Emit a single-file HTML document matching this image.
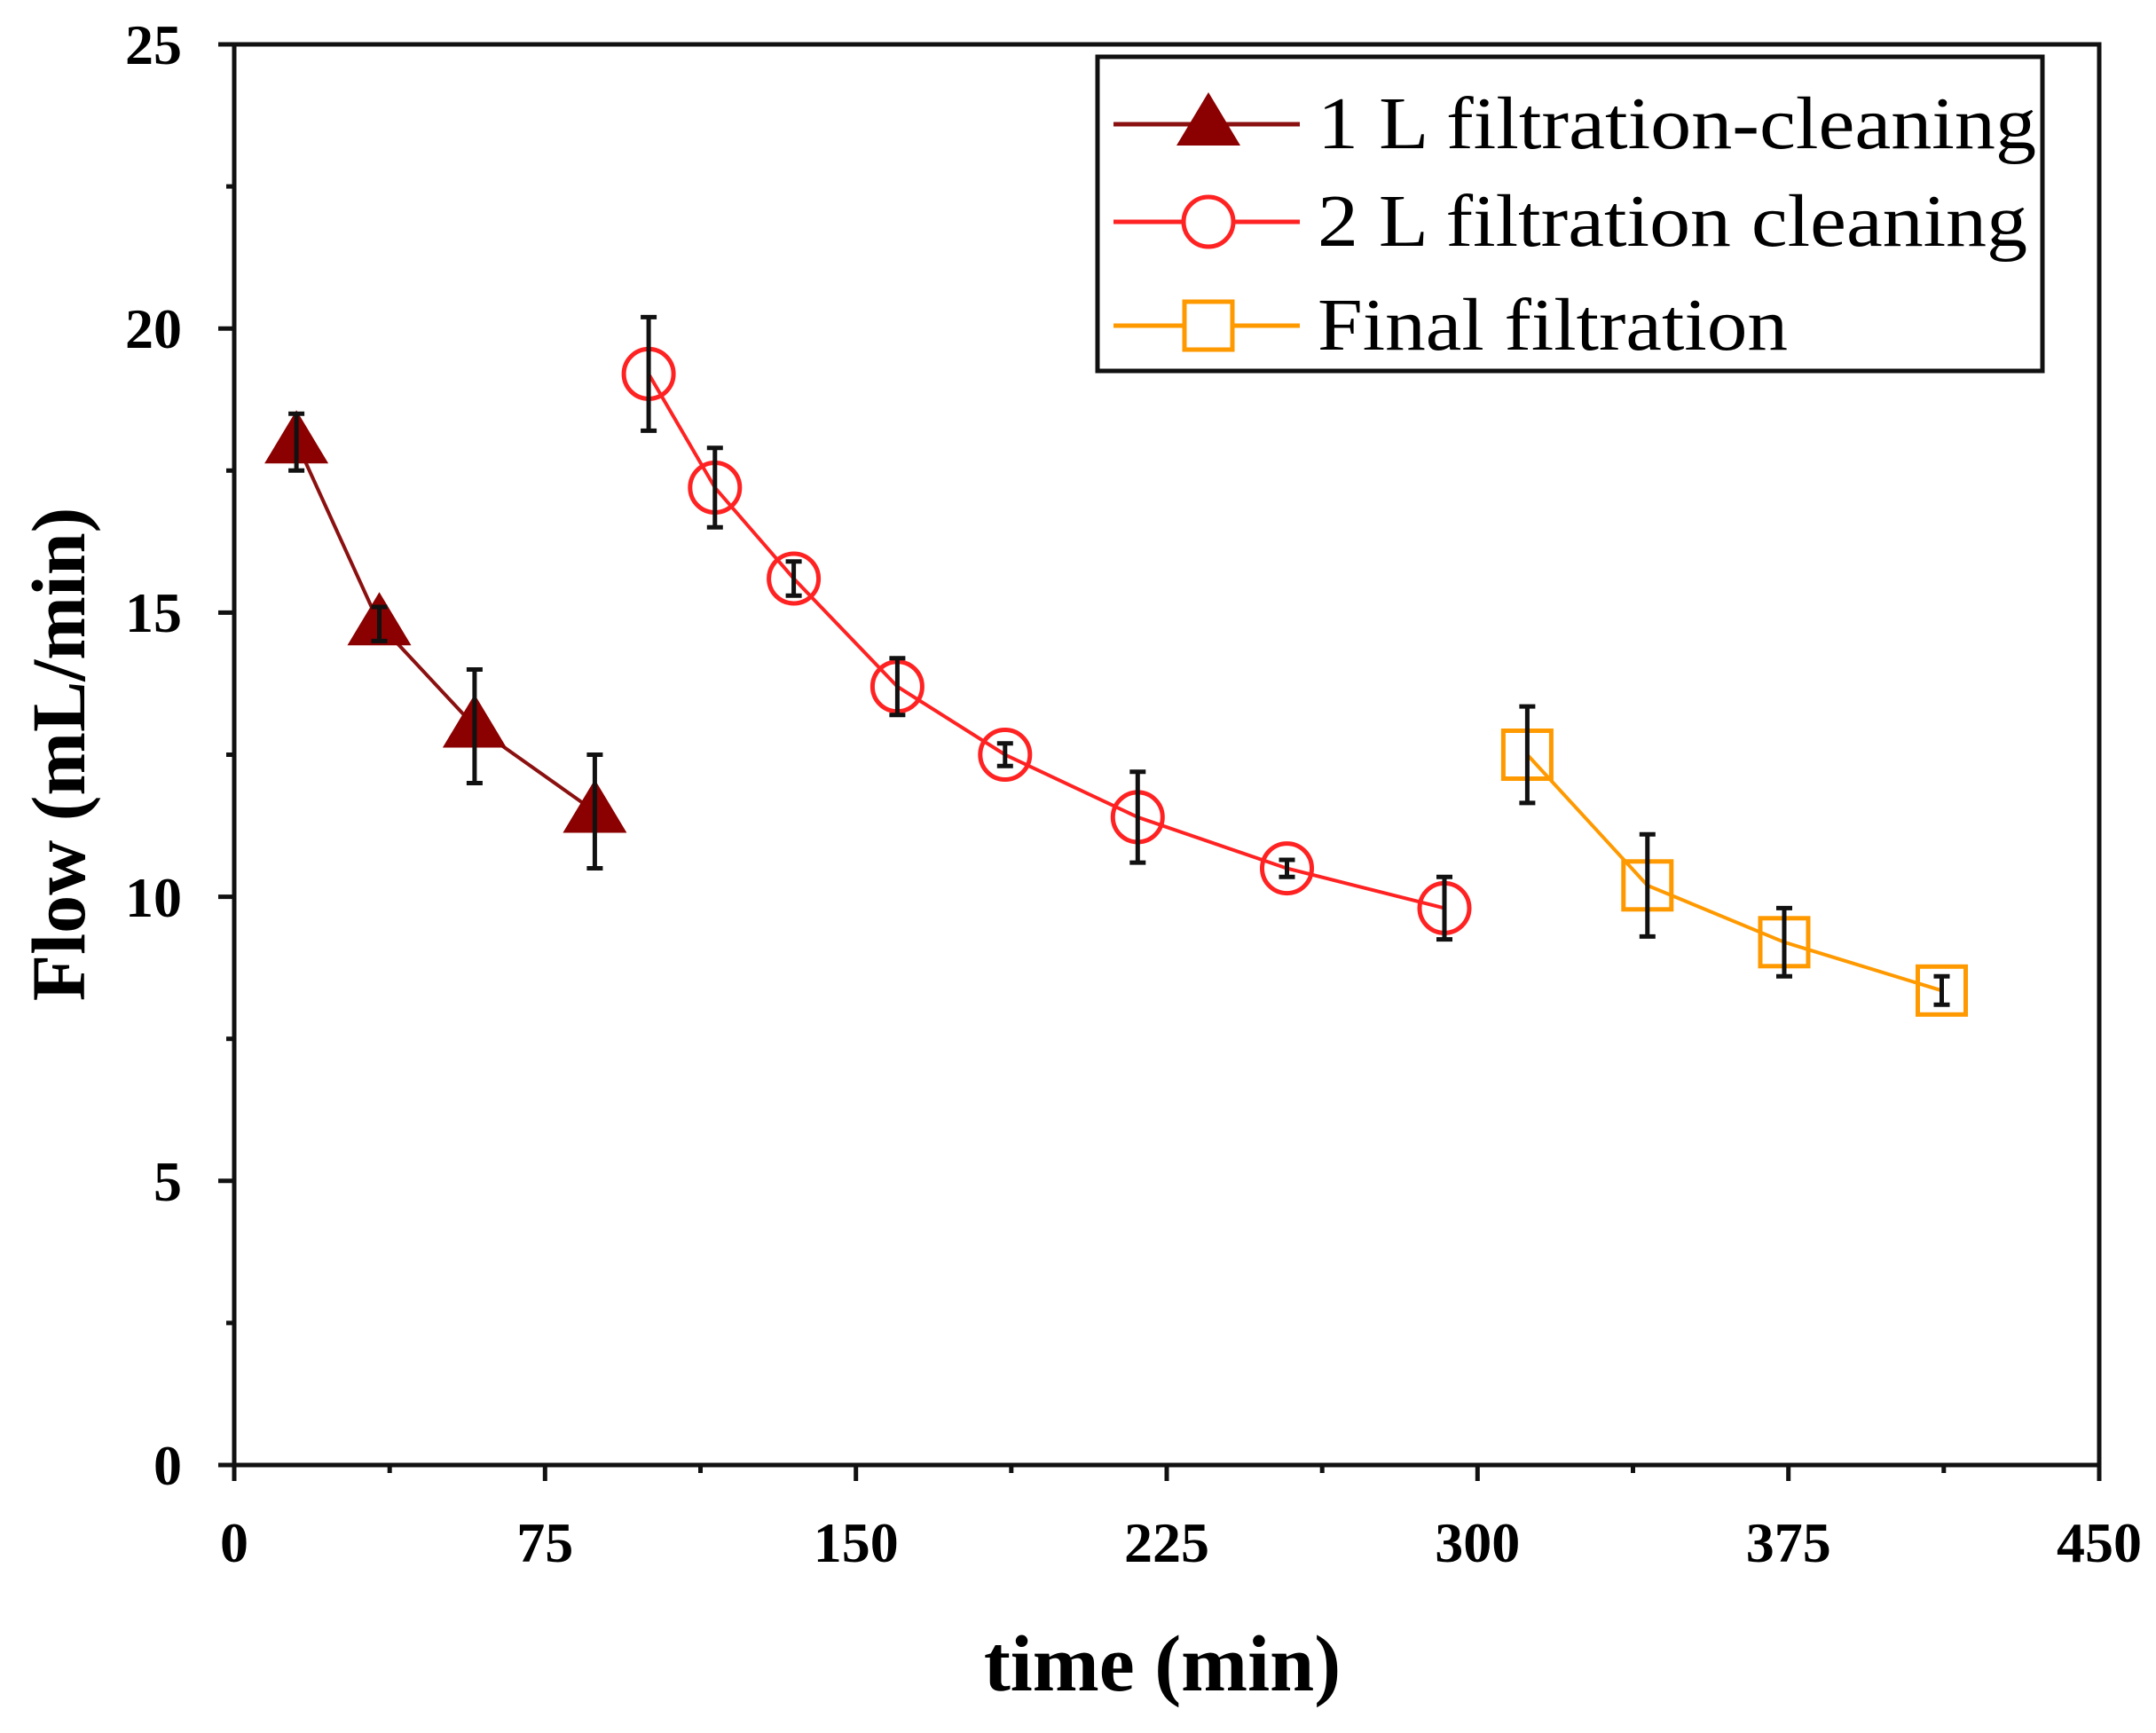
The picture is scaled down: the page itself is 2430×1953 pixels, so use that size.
<!DOCTYPE html>
<html><head><style>body{margin:0;background:#fff}</style></head><body>
<svg width="2430" height="1948" viewBox="0 0 2430 1948" xmlns="http://www.w3.org/2000/svg" font-family="Liberation Serif, serif" font-weight="bold">
<rect x="264" y="50" width="2102" height="1601" fill="none" stroke="#111" stroke-width="5"/>
<g stroke="#111" stroke-width="5">
<line x1="264" y1="1651" x2="264" y2="1669"/><line x1="439.2" y1="1651" x2="439.2" y2="1660"/>
<line x1="614.3" y1="1651" x2="614.3" y2="1669"/><line x1="789.5" y1="1651" x2="789.5" y2="1660"/>
<line x1="964.7" y1="1651" x2="964.7" y2="1669"/><line x1="1139.8" y1="1651" x2="1139.8" y2="1660"/>
<line x1="1315" y1="1651" x2="1315" y2="1669"/><line x1="1490.2" y1="1651" x2="1490.2" y2="1660"/>
<line x1="1665.3" y1="1651" x2="1665.3" y2="1669"/><line x1="1840.5" y1="1651" x2="1840.5" y2="1660"/>
<line x1="2015.7" y1="1651" x2="2015.7" y2="1669"/><line x1="2190.8" y1="1651" x2="2190.8" y2="1660"/>
<line x1="2366" y1="1651" x2="2366" y2="1669"/>
<line x1="246" y1="1651" x2="264" y2="1651"/><line x1="255" y1="1490.9" x2="264" y2="1490.9"/>
<line x1="246" y1="1330.8" x2="264" y2="1330.8"/><line x1="255" y1="1170.7" x2="264" y2="1170.7"/>
<line x1="246" y1="1010.6" x2="264" y2="1010.6"/><line x1="255" y1="850.5" x2="264" y2="850.5"/>
<line x1="246" y1="690.4" x2="264" y2="690.4"/><line x1="255" y1="530.3" x2="264" y2="530.3"/>
<line x1="246" y1="370.2" x2="264" y2="370.2"/><line x1="255" y1="210.1" x2="264" y2="210.1"/>
<line x1="246" y1="50" x2="264" y2="50"/>
</g>
<g font-size="64" text-anchor="middle">
<text x="264" y="1760">0</text><text x="614.3" y="1760">75</text><text x="964.7" y="1760">150</text>
<text x="1315" y="1760">225</text><text x="1665.3" y="1760">300</text><text x="2015.7" y="1760">375</text><text x="2366" y="1760">450</text>
</g>
<g font-size="64" text-anchor="end">
<text x="205" y="1673">0</text><text x="205" y="1353">5</text><text x="205" y="1033">10</text>
<text x="205" y="712">15</text><text x="205" y="392">20</text><text x="205" y="72">25</text>
</g>
<text x="1310" y="1905" font-size="90" text-anchor="middle">time (min)</text>
<text transform="translate(95,850) rotate(-90)" font-size="86" text-anchor="middle">Flow (mL/min)</text>

<polyline points="334.1,498.3 427.5,703.2 534.9,818.5 670.4,914.5" fill="none" stroke="#8b1010" stroke-width="4"/>
<g fill="#8b0000">
<polygon points="334.1,462.3 298.1,522.3 370.1,522.3"/>
<polygon points="427.5,667.2 391.5,727.2 463.5,727.2"/>
<polygon points="534.9,782.5 498.9,842.5 570.9,842.5"/>
<polygon points="670.4,878.5 634.4,938.5 706.4,938.5"/>
</g>

<polyline points="731.1,421.4 805.8,549.5 894.6,652 1011.4,773.7 1132.8,850.5 1282.3,920.9 1450.5,978.6 1628,1023.4" fill="none" stroke="#f22" stroke-width="4"/>
<g fill="none" stroke="#f22" stroke-width="5">
<circle cx="731.1" cy="421.4" r="28"/><circle cx="805.8" cy="549.5" r="28"/><circle cx="894.6" cy="652" r="28"/>
<circle cx="1011.4" cy="773.7" r="28"/><circle cx="1132.8" cy="850.5" r="28"/><circle cx="1282.3" cy="920.9" r="28"/>
<circle cx="1450.5" cy="978.6" r="28"/><circle cx="1628" cy="1023.4" r="28"/>
</g>

<polyline points="1721.4,850.5 1856.8,997.8 2011,1061.8 2188.5,1116.3" fill="none" stroke="#f90" stroke-width="4"/>
<g fill="none" stroke="#f90" stroke-width="5">
<rect x="1694.4" y="823.5" width="54" height="54"/><rect x="1829.8" y="970.8" width="54" height="54"/>
<rect x="1984" y="1034.8" width="54" height="54"/><rect x="2161.5" y="1089.3" width="54" height="54"/>
</g>

<g stroke="#111" stroke-width="5" fill="none">
<path d="M334.1 466.3V530.3M325.1 466.3H343.1M325.1 530.3H343.1"/>
<path d="M427.5 684V722.4M418.5 684H436.5M418.5 722.4H436.5"/>
<path d="M534.9 754.5V882.5M525.9 754.5H543.9M525.9 882.5H543.9"/>
<path d="M670.4 850.5V978.5M661.4 850.5H679.4M661.4 978.5H679.4"/>
<path d="M731.1 357.4V485.4M722.1 357.4H740.1M722.1 485.4H740.1"/>
<path d="M805.8 504.7V594.3M796.8 504.7H814.8M796.8 594.3H814.8"/>
<path d="M894.6 632.8V671.2M885.6 632.8H903.6M885.6 671.2H903.6"/>
<path d="M1011.4 741.7V805.7M1002.4 741.7H1020.4M1002.4 805.7H1020.4"/>
<path d="M1132.8 837.7V863.3M1123.8 837.7H1141.8M1123.8 863.3H1141.8"/>
<path d="M1282.3 869.7V972.1M1273.3 869.7H1291.3M1273.3 972.1H1291.3"/>
<path d="M1450.5 969V988.2M1441.5 969H1459.5M1441.5 988.2H1459.5"/>
<path d="M1628 988.2V1058.6M1619 988.2H1637M1619 1058.6H1637"/>
<path d="M1721.4 796.1V904.9M1712.4 796.1H1730.4M1712.4 904.9H1730.4"/>
<path d="M1856.8 940.2V1055.4M1847.8 940.2H1865.8M1847.8 1055.4H1865.8"/>
<path d="M2011 1023.4V1100.2M2002 1023.4H2020M2002 1100.2H2020"/>
<path d="M2188.5 1100.3V1132.3M2179.5 1100.3H2197.5M2179.5 1132.3H2197.5"/>
</g>

<rect x="1237" y="64" width="1065" height="354" fill="#fff" stroke="#111" stroke-width="5"/>
<line x1="1255" y1="140" x2="1465" y2="140" stroke="#8b1010" stroke-width="5"/>
<polygon points="1362,104 1326,164 1398,164" fill="#8b0000"/>
<text x="1485" y="167" font-size="84" font-weight="normal" textLength="810" lengthAdjust="spacingAndGlyphs">1 L filtration-cleaning</text>
<line x1="1255" y1="250" x2="1465" y2="250" stroke="#f22" stroke-width="5"/>
<circle cx="1362" cy="250" r="28" fill="#fff" stroke="#f22" stroke-width="5"/>
<text x="1485" y="277" font-size="84" font-weight="normal" textLength="800" lengthAdjust="spacingAndGlyphs">2 L filtration cleaning</text>
<line x1="1255" y1="367" x2="1465" y2="367" stroke="#f90" stroke-width="5"/>
<rect x="1335" y="340" width="54" height="54" fill="#fff" stroke="#f90" stroke-width="5"/>
<text x="1485" y="394" font-size="84" font-weight="normal" textLength="530" lengthAdjust="spacingAndGlyphs">Final filtration</text>
</svg>
</body></html>
